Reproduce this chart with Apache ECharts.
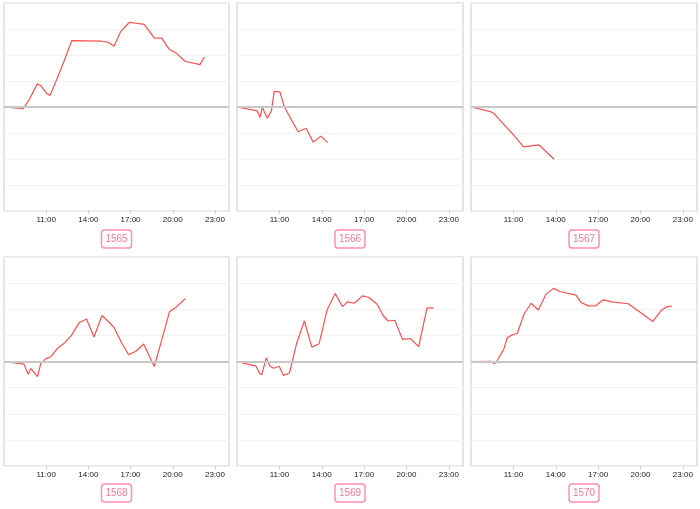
<!DOCTYPE html>
<html><head><meta charset="utf-8">
<script src="https://cdn.jsdelivr.net/npm/echarts@6/dist/echarts.min.js"></script>
<style>html,body{margin:0;padding:0;background:#fff}#c{width:700px;height:509px}</style>
</head><body><div id="c"></div>
<script>
const names = ['1565','1566','1567','1568','1569','1570'];
const tickHours = [11, 14, 17, 20, 23];

const t1565 = ['8:00','9:22','9:48','10:22','10:36','10:59','11:16','11:45','12:16','12:49','14:57','15:25','15:49','16:18','16:55','17:58','18:41','19:13','19:46','20:14','20:52','21:56','22:15'];
const v1565 = [0,-0.06,0.29,0.89,0.83,0.55,0.44,1.06,1.76,2.55,2.53,2.49,2.34,2.9,3.26,3.18,2.66,2.65,2.21,2.08,1.76,1.63,1.92];

const t1566 = ['8:00','9:26','9:38','9:47','10:09','10:26','10:38','11:02','11:21','11:49','12:20','12:53','13:24','13:56','14:25'];
const v1566 = [0,-0.15,-0.4,-0.01,-0.43,-0.15,0.6,0.58,0.01,-0.46,-0.95,-0.82,-1.35,-1.12,-1.37];

const t1567 = ['8:00','9:23','9:39','9:45','9:53','11:07','11:43','12:49','13:53'];
const v1567 = [0,-0.18,-0.26,-0.26,-0.41,-1.14,-1.53,-1.46,-2.01];

const t1568 = ['8:00','9:25','9:43','9:55','10:23','10:37','10:57','11:19','11:48','12:19','12:47','13:20','13:52','14:24','14:58','15:26','15:49','16:22','16:52','17:24','17:56','18:41','19:13','19:46','20:16','20:53'];
const v1568 = [0,-0.1,-0.49,-0.27,-0.58,-0.08,0.1,0.18,0.5,0.72,0.99,1.48,1.63,0.94,1.76,1.52,1.31,0.71,0.26,0.4,0.67,-0.19,0.83,1.9,2.09,2.4];

const t1569 = ['8:00','9:21','9:35','9:45','10:04','10:20','10:35','10:59','11:17','11:43','12:14','12:46','13:18','13:49','14:22','14:57','15:28','15:49','16:18','16:53','17:19','17:55','18:20','18:41','19:10','19:43','20:16','20:52','21:27','21:55'];
const v1569 = [0,-0.18,-0.44,-0.51,0.14,-0.18,-0.26,-0.18,-0.53,-0.44,0.72,1.55,0.55,0.68,1.96,2.6,2.1,2.28,2.23,2.51,2.46,2.19,1.77,1.55,1.58,0.85,0.88,0.57,2.05,2.05];

const t1570 = ['8:00','9:23','9:39','9:49','10:20','10:34','10:53','11:17','11:45','12:15','12:46','13:19','13:50','14:18','15:26','15:47','16:19','16:51','17:22','17:58','19:08','20:16','20:52','21:28','21:54','22:13'];
const v1570 = [0,0.01,-0.08,0,0.49,0.91,1.01,1.08,1.81,2.23,1.97,2.58,2.8,2.68,2.54,2.26,2.13,2.14,2.36,2.28,2.21,1.77,1.53,1.96,2.1,2.12];

const times = [t1565,t1566,t1567,t1568,t1569,t1570];
const vals = [v1565,v1566,v1567,v1568,v1569,v1570];

function toH(s){ const p = s.split(':'); return (+p[0]) + (+p[1])/60; }

const cols = [[4,229],[237,463],[471,697]];
const rows = [[3,211],[257,466]];
const titleTop = [230, 484];

const grids = [], xAxes = [], yAxes = [], series = [], titles = [];
for (let i = 0; i < 6; i++) {
  const c = cols[i % 3], r = rows[Math.floor(i / 3)];
  grids.push({left: c[0], top: r[0], width: c[1]-c[0], height: r[1]-r[0], show: true,
    borderColor: '#dddddd', borderWidth: 1.5, backgroundColor: 'transparent'});
  xAxes.push({type: 'value', gridIndex: i, min: 8, max: 24,
    axisLine: {show: false, onZero: false},
    axisTick: {show: true, customValues: tickHours, length: 3, lineStyle: {color: '#cccccc'}},
    axisLabel: {customValues: tickHours, formatter: v => v + ':00', fontSize: 8, color: '#222', margin: 5},
    splitLine: {show: false}});
  yAxes.push({type: 'value', gridIndex: i, min: -4, max: 4, interval: 1,
    axisLine: {show: false}, axisTick: {show: false}, axisLabel: {show: false},
    splitLine: {show: true, lineStyle: {color: '#f2f2f2', width: 1}}});
  series.push({type: 'line', xAxisIndex: i, yAxisIndex: i, showSymbol: false, symbol: 'none',
    data: times[i].map((t, k) => [toH(t), vals[i][k]]),
    lineStyle: {color: '#ff4f4f', width: 1.2}, itemStyle: {color: '#ff4f4f'},
    markLine: {silent: true, symbol: 'none', label: {show: false},
      lineStyle: {color: '#c8c8c8', width: 2, type: 'solid'}, data: [{yAxis: 0}]}, z: 3});
  titles.push({text: names[i], left: (c[0]+c[1])/2 - 4, top: titleTop[Math.floor(i/3)], textAlign: 'center',
    padding: [4, 4], borderColor: '#ff8fab', borderWidth: 1.5, borderRadius: 3,
    textStyle: {color: '#f7789a', fontSize: 10, fontWeight: 'normal'}});
}

const chart = echarts.init(document.getElementById('c'), null, {renderer: 'canvas'});
chart.setOption({animation: false, title: titles, grid: grids, xAxis: xAxes, yAxis: yAxes, series: series});
</script></body></html>
